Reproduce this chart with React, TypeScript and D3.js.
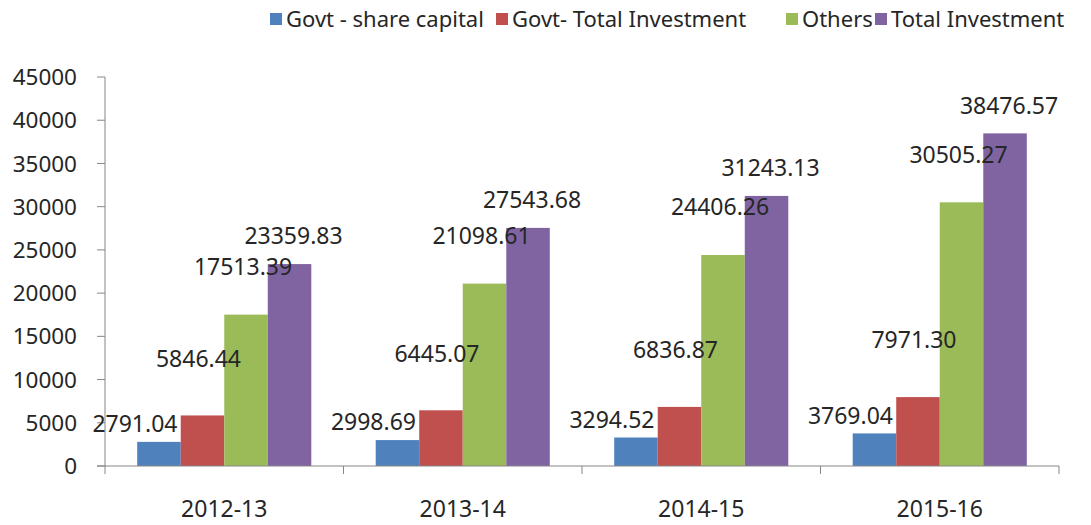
import * as React from 'react';
import * as d3 from 'd3';

const years = ['2012-13', '2013-14', '2014-15', '2015-16'];
const seriesNames = ['Govt - share capital', 'Govt- Total Investment', 'Others', 'Total Investment'];
const govtShareCapital = [2791.04, 2998.69, 3294.52, 3769.04];
const govtTotalInvestment = [5846.44, 6445.07, 6836.87, 7971.30];
const others = [17513.39, 21098.61, 24406.26, 30505.27];
const totalInvestment = [23359.83, 27543.68, 31243.13, 38476.57];
const yTicks = [0, 5000, 10000, 15000, 20000, 25000, 30000, 35000, 40000, 45000];

const colors = ['#4F81BD', '#C0504D', '#9BBB59', '#8064A2'];
// labels in the original were dragged around a bit, so nudge them per series
const labelDx = [-24, -4, -3, 4];
const labelDy = [-18, -57, -48, -28];
const legendX = [270, 496, 786, 875];

const App = () => {
  const ref = React.useRef<SVGSVGElement>(null);

  React.useEffect(() => {
    const width = 1091;
    const height = 525;
    const left = 105;
    const right = 1059;
    const top = 77;
    const bottom = 466;
    const font = '"Noto Sans", "Open Sans", sans-serif';
    const textColor = '#262626';
    const axisColor = '#868686';

    const values = [govtShareCapital, govtTotalInvestment, others, totalInvestment];

    const svg = d3.select(ref.current).attr('width', width).attr('height', height);
    svg.selectAll('*').remove();

    const x0 = d3.scaleBand().domain(years).range([left, right]).paddingInner(0).paddingOuter(0);
    const x1 = d3.scaleBand().domain(d3.range(4).map(String)).range([0, x0.bandwidth()])
      .paddingInner(0).paddingOuter(0.74);
    const y = d3.scaleLinear().domain([0, 45000]).range([bottom, top]);

    // y axis
    svg.append('line')
      .attr('x1', left).attr('x2', left).attr('y1', top).attr('y2', bottom)
      .attr('stroke', axisColor).attr('stroke-width', 1);
    const yt = svg.selectAll('.ytick').data(yTicks).enter().append('g').attr('class', 'ytick');
    yt.append('line')
      .attr('x1', left - 8).attr('x2', left)
      .attr('y1', d => y(d)).attr('y2', d => y(d))
      .attr('stroke', axisColor);
    yt.append('text')
      .attr('x', 77).attr('y', d => y(d)).attr('dy', '0.36em')
      .attr('text-anchor', 'end')
      .style('font', `22.5px ${font}`).attr('fill', textColor)
      .text(d => String(d));

    // bars
    values.forEach((vals, s) => {
      svg.append('g').selectAll('rect').data(vals).enter().append('rect')
        .attr('x', (d, i) => (x0(years[i]) as number) + (x1(String(s)) as number))
        .attr('y', d => y(d))
        .attr('width', x1.bandwidth())
        .attr('height', d => bottom - y(d))
        .attr('fill', colors[s]);
    });

    // x axis
    svg.append('line')
      .attr('x1', left - 8).attr('x2', right).attr('y1', bottom).attr('y2', bottom)
      .attr('stroke', axisColor);
    const bounds = years.map(c => x0(c) as number).concat([right]);
    svg.selectAll('.xtick').data(bounds).enter().append('line')
      .attr('x1', d => d).attr('x2', d => d).attr('y1', bottom).attr('y2', bottom + 8)
      .attr('stroke', axisColor);
    svg.selectAll('.xlab').data(years).enter().append('text')
      .attr('x', d => (x0(d) as number) + x0.bandwidth() / 2)
      .attr('y', 517)
      .attr('text-anchor', 'middle')
      .style('font', `23px ${font}`).attr('fill', textColor)
      .text(d => d);

    // data labels
    values.forEach((vals, s) => {
      svg.append('g').selectAll('text').data(vals).enter().append('text')
        .attr('x', (d, i) => (x0(years[i]) as number) + (x1(String(s)) as number) + x1.bandwidth() / 2 + labelDx[s])
        .attr('y', d => y(d) + labelDy[s])
        .attr('dy', '0.36em')
        .attr('text-anchor', 'middle')
        .style('font', `23px ${font}`).attr('fill', textColor)
        .text(d => d.toFixed(2));
    });

    // legend
    const lg = svg.selectAll('.legend').data(seriesNames).enter().append('g').attr('class', 'legend');
    lg.append('rect')
      .attr('x', (d, i) => legendX[i]).attr('y', 13)
      .attr('width', 12).attr('height', 12)
      .attr('fill', (d, i) => colors[i]);
    lg.append('text')
      .attr('x', (d, i) => legendX[i] + 16).attr('y', 27)
      .style('font', `22px ${font}`).attr('fill', textColor)
      .text(d => d);
  }, []);

  return (
    <svg ref={ref} style={{ position: 'absolute', left: 0, top: 0, background: '#fff' }}></svg>
  );
};

export default App;
